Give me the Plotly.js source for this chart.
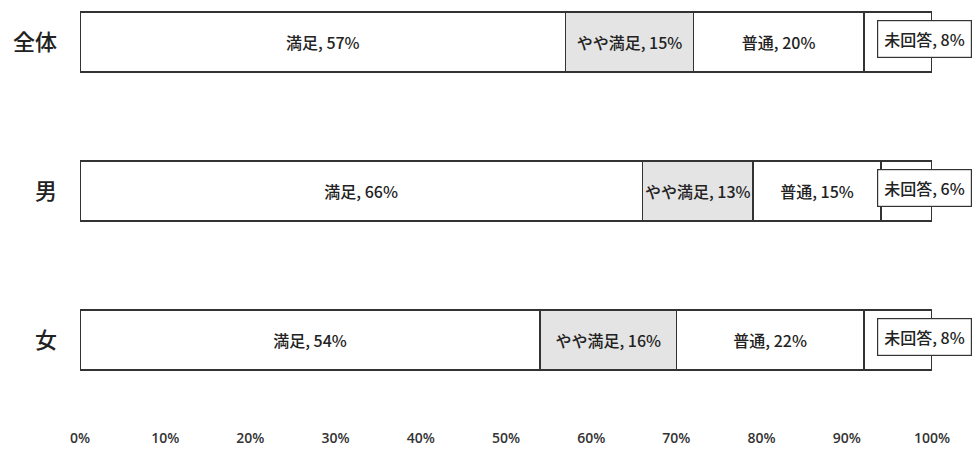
<!DOCTYPE html>
<html>
<head>
<meta charset="utf-8">
<script src="https://cdn.plot.ly/plotly-3.0.1.min.js"></script>
<style>body{margin:0;background:#fff}#chart{width:977px;height:451px}</style>
</head>
<body>
<div id="chart"></div>
<script>
const categories = ['全体', '男', '女'];
const seriesNames = ['満足', 'やや満足', '普通', '未回答'];
const manzoku = [57, 66, 54];
const yayaManzoku = [15, 13, 16];
const futsu = [20, 15, 22];
const mikaitou = [8, 6, 8];
const xTickVals = [0, 10, 20, 30, 40, 50, 60, 70, 80, 90, 100];
const xTickText = ['0%', '10%', '20%', '30%', '40%', '50%', '60%', '70%', '80%', '90%', '100%'];

const seriesValues = [manzoku, yayaManzoku, futsu, mikaitou];
const fills = ['#ffffff', '#e4e4e4', '#ffffff', '#ffffff'];
const labelFont = {family: '"Noto Sans CJK JP", "Noto Sans", sans-serif', size: 16, color: '#222', weight: 500};

const traces = seriesValues.map((vals, i) => ({
  type: 'bar',
  orientation: 'h',
  name: seriesNames[i],
  y: categories,
  x: vals,
  width: 0.4,
  marker: {color: fills[i], line: {color: '#333', width: 1.5}},
  text: i === 3 ? vals.map(() => '') : vals.map(v => seriesNames[i] + ', ' + v + '%'),
  textposition: 'inside',
  insidetextanchor: 'middle',
  textangle: 0,
  constraintext: 'none',
  textfont: labelFont,
  hoverinfo: 'none'
}));

const annotations = categories.map((c, k) => {
  const end = manzoku[k] + yayaManzoku[k] + futsu[k] + mikaitou[k];
  return {
    x: end, y: c, xref: 'x', yref: 'y',
    xanchor: 'right', yanchor: 'middle',
    xshift: 40, yshift: 3,
    text: seriesNames[3] + ', ' + mikaitou[k] + '%',
    showarrow: false,
    font: labelFont,
    bgcolor: '#ffffff',
    bordercolor: '#333',
    borderwidth: 1.2,
    borderpad: 6
  };
});

const layout = {
  width: 977, height: 451,
  margin: {l: 80, r: 45, t: 5, b: 31},
  paper_bgcolor: '#fff', plot_bgcolor: '#fff',
  barmode: 'stack',
  showlegend: false,
  xaxis: {
    range: [0, 100], tickvals: xTickVals, ticktext: xTickText,
    showgrid: false, zeroline: false, showline: false, ticks: '',
    ticklabelstandoff: 8,
    tickfont: {family: '"Open Sans", sans-serif', size: 14, color: '#333', weight: 600}
  },
  yaxis: {
    type: 'category', categoryorder: 'array', categoryarray: categories,
    range: [2.537, -0.248],
    showgrid: false, zeroline: false, showline: false, ticks: '',
    ticklabelstandoff: 22,
    tickfont: {family: '"Noto Sans CJK JP", sans-serif', size: 22, color: '#222', weight: 500}
  },
  annotations: annotations
};

Plotly.newPlot('chart', traces, layout, {displayModeBar: false, staticPlot: true});
</script>
</body>
</html>
